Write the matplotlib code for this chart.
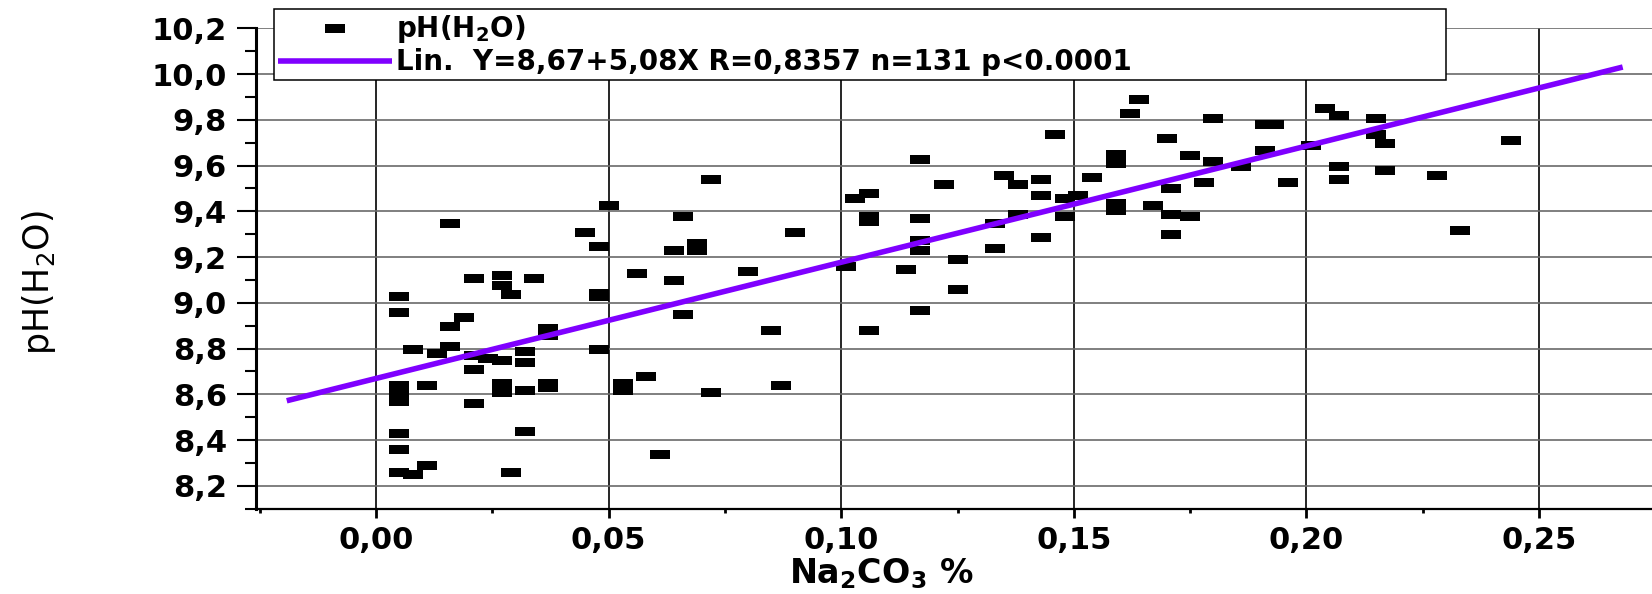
import matplotlib
matplotlib.use("Agg")
import matplotlib.pyplot as plt
from matplotlib.ticker import MultipleLocator

# Na2CO3 % vs pH(H2O)
na2co3 = [0.016, 0.021, 0.027, 0.027, 0.029, 0.034, 0.005, 0.005, 0.019, 0.016,
          0.037, 0.037, 0.008, 0.013, 0.016, 0.021, 0.021, 0.024, 0.027, 0.032,
          0.032, 0.005, 0.005, 0.005, 0.011, 0.027, 0.027, 0.032, 0.037, 0.037,
          0.021, 0.032, 0.005, 0.005, 0.005, 0.008, 0.011, 0.029,
          0.072, 0.050, 0.066, 0.045, 0.048, 0.064, 0.069, 0.069, 0.056, 0.064,
          0.080, 0.048, 0.048, 0.066, 0.085, 0.048, 0.058, 0.053, 0.053, 0.072,
          0.087, 0.061,
          0.090, 0.117, 0.122, 0.103, 0.106, 0.106, 0.106, 0.117, 0.117, 0.117,
          0.101, 0.114, 0.125, 0.125, 0.117, 0.106,
          0.164, 0.162, 0.146, 0.159, 0.159, 0.135, 0.138, 0.143, 0.154, 0.143,
          0.148, 0.151, 0.138, 0.148, 0.133, 0.159, 0.159, 0.167, 0.143, 0.133,
          0.204, 0.207, 0.180, 0.191, 0.193, 0.170, 0.175, 0.180, 0.191, 0.201,
          0.186, 0.171, 0.178, 0.196, 0.207, 0.207, 0.171, 0.175, 0.171,
          0.215, 0.215, 0.217, 0.244, 0.217, 0.228, 0.233]
ph_h2o = [9.35, 9.11, 9.12, 9.08, 9.04, 9.11, 9.03, 8.96, 8.94, 8.90,
          8.89, 8.86, 8.80, 8.78, 8.81, 8.77, 8.71, 8.76, 8.75, 8.79,
          8.74, 8.64, 8.61, 8.57, 8.64, 8.65, 8.61, 8.62, 8.65, 8.63,
          8.56, 8.44, 8.43, 8.36, 8.26, 8.25, 8.29, 8.26,
          9.54, 9.43, 9.38, 9.31, 9.25, 9.23, 9.26, 9.23, 9.13, 9.10,
          9.14, 9.045, 9.03, 8.95, 8.88, 8.80, 8.68, 8.65, 8.62, 8.61,
          8.64, 8.34,
          9.31, 9.63, 9.52, 9.46, 9.48, 9.38, 9.36, 9.37, 9.275, 9.23,
          9.16, 9.15, 9.19, 9.06, 8.97, 8.88,
          9.89, 9.83, 9.74, 9.65, 9.61, 9.56, 9.52, 9.54, 9.55, 9.47,
          9.46, 9.47, 9.39, 9.38, 9.35, 9.435, 9.405, 9.43, 9.29, 9.24,
          9.85, 9.82, 9.81, 9.78, 9.78, 9.72, 9.645, 9.62, 9.67, 9.69,
          9.60, 9.50, 9.53, 9.53, 9.60, 9.54, 9.39, 9.38, 9.30,
          9.81, 9.74, 9.70, 9.71, 9.58, 9.56, 9.32]

# ends of the fitted line
fit_x = [-0.0192, 0.268]
fit_y = [8.572, 10.031]

x_ticks = [0.0, 0.05, 0.10, 0.15, 0.20, 0.25]
x_tick_labels = ["0,00", "0,05", "0,10", "0,15", "0,20", "0,25"]
y_ticks = [8.2, 8.4, 8.6, 8.8, 9.0, 9.2, 9.4, 9.6, 9.8, 10.0, 10.2]
y_tick_labels = ["8,2", "8,4", "8,6", "8,8", "9,0", "9,2", "9,4", "9,6", "9,8", "10,0", "10,2"]

points_label = r"pH(H$_{\mathbf{2}}$O)"
fit_label = "Lin.  Y=8,67+5,08X R=0,8357 n=131 p<0.0001"

fig = plt.figure(figsize=(16.52, 5.94), dpi=100)
ax = fig.add_axes([0.155, 0.1436, 0.845, 0.8086])

rect = [(-1, -0.45), (1, -0.45), (1, 0.45), (-1, 0.45), (-1, -0.45)]
ax.plot(na2co3, ph_h2o, linestyle="none", marker=rect, markersize=14.4,
        color="black", markeredgewidth=0, label=points_label, zorder=3)
ax.plot(fit_x, fit_y, color="#7f00ff", lw=4, label=fit_label, zorder=4,
        solid_capstyle="butt")

ax.set_xlim(-0.0258, 0.2743)
ax.set_ylim(8.1, 10.2)

ax.set_xticks(x_ticks)
ax.set_xticklabels(x_tick_labels, fontsize=22, fontweight="bold")
ax.set_yticks(y_ticks)
ax.set_yticklabels(y_tick_labels, fontsize=22, fontweight="bold")
ax.xaxis.set_minor_locator(MultipleLocator(0.025))
ax.yaxis.set_minor_locator(MultipleLocator(0.1))

ax.tick_params(axis="y", which="major", length=14, width=1.5, pad=7, direction="out")
ax.tick_params(axis="y", which="minor", length=8, width=1.5, direction="out")
ax.tick_params(axis="x", which="major", length=6.5, width=2, pad=6, direction="out")
ax.tick_params(axis="x", which="minor", length=3, width=2, direction="out")

ax.xaxis.grid(True, color="black", lw=1.2)
ax.yaxis.grid(True, color="#6a6a6a", lw=1.2)
ax.set_axisbelow(True)

ax.spines["top"].set_visible(False)
ax.spines["right"].set_visible(False)
ax.spines["left"].set_linewidth(2.2)
ax.spines["bottom"].set_linewidth(1.6)

ax.set_xlabel(r"Na$_{\mathbf{2}}$CO$_{\mathbf{3}}$ %", fontsize=24, fontweight="bold")
ax.xaxis.set_label_coords(0.448, -0.1)
ax.set_ylabel(r"pH(H$_2$O)", fontsize=25)
ax.yaxis.set_label_coords(-0.142, 0.47)

leg = ax.legend(loc="upper left", bbox_to_anchor=(0.1659, 0.8686, 0.7094, 0.1157),
                bbox_transform=fig.transFigure, mode="expand", borderaxespad=0,
                prop={"weight": "bold", "size": 20}, numpoints=1,
                handlelength=4.1, handletextpad=0.15, borderpad=0.15,
                labelspacing=0.1, fancybox=False, framealpha=1)
leg.get_frame().set_edgecolor("black")
leg.get_frame().set_linewidth(1.1)

plt.savefig("out.png", dpi=100)
